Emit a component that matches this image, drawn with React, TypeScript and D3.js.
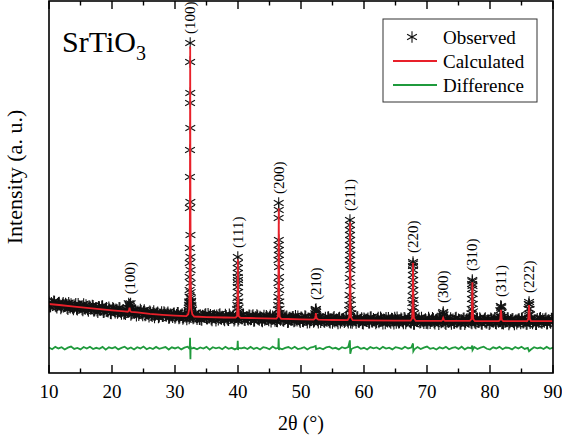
import React, { useEffect, useRef } from "react";
import * as d3 from "d3";

const W = 562;
const H = 440;
const M = { left: 49, right: 553, top: 1, bottom: 373 };
const RED = "#e8202a";
const GREEN = "#1f9a3c";
const FONT = "Liberation Serif, Times New Roman, serif";

const xTicks = [10, 20, 30, 40, 50, 60, 70, 80, 90];
const xMinorTicks = [15, 25, 35, 45, 55, 65, 75, 85];

// observed counts off the peaks, 10° to 90° every 0.25°
const obsStart = 10;
const obsStep = 0.25;
const obsBackground = [
  780, 635, 730, 815, 660, 595, 760, 685, 620, 764, 649, 703, 548, 682, 726, 591,
  605, 730, 535, 670, 625, 540, 725, 560, 625, 490, 645, 570, 665, 510, 585, 450,
  625, 530, 655, 460, 575, 480, 615, 420, 525, 571, 436, 532, 468, 593, 399, 534,
  420, 556, 463, 569, 365, 501, 418, 524, 460, 354, 548, 401, 485, 349, 433, 386,
  490, 356, 443, 279, 415, 461, 308, 384, 320, 467, 344, 421, 268, 395, 342, 418,
  265, 373, 440, 278, 355, 233, 400, 298, 375, 253, 411, 319, 277, 425, 223, 350,
  368, 206, 324, 382, 250, 409, 277, 216, 335, 364, 182, 301, 380, 249, 317, 216,
  385, 254, 193, 332, 291, 360, 219, 308, 177, 336, 265, 384, 203, 292, 231, 360,
  220, 339, 167, 306, 365, 244, 322, 181, 270, 199, 347, 226, 305, 144, 332, 251,
  280, 158, 357, 205, 304, 172, 261, 329, 138, 286, 214, 313, 171, 240, 328, 177,
  295, 164, 233, 322, 111, 260, 189, 298, 137, 236, 275, 114, 303, 192, 241, 140,
  189, 298, 137, 246, 105, 314, 203, 152, 271, 111, 230, 259, 159, 298, 117, 217,
  279, 168, 248, 107, 307, 136, 216, 96, 265, 185, 234, 114, 293, 143, 252, 172,
  131, 290, 170, 259, 79, 218, 278, 147, 197, 106, 246, 85, 225, 294, 114, 204,
  234, 93, 263, 152, 202, 282, 111, 221, 71, 250, 160, 270, 130, 190, 100, 240,
  140, 290, 99, 209, 249, 79, 228, 158, 268, 118, 187, 257, 67, 217, 146, 276,
  196, 106, 275, 125, 235, 85, 204, 254, 64, 224, 164, 263, 113, 283, 143, 93,
  263, 133, 232, 72, 192, 272, 112, 202, 92, 241, 151, 281, 81, 211, 161, 221,
  101, 251, 141, 271, 61, 210, 240, 120, 180, 80, 230, 150, 260, 110, 200, 70,
  230, 150, 270, 90, 199, 69, 249, 129, 279, 109, 179, 238, 78, 208, 138, 258,
  190,
];
// the scan points in between, 10.125° to 89.875°
const obsMidStart = 10.125;
const obsBackgroundMid = [
  628, 763, 698, 803, 638, 723, 768, 573, 717, 642, 736, 581, 765, 599, 664, 538,
  693, 558, 733, 598, 653, 508, 613, 688, 543, 658, 553, 678, 493, 598, 503, 638,
  513, 648, 453, 558, 603, 468, 553, 408, 603, 489, 554, 430, 606, 461, 497, 402,
  388, 525, 461, 567, 403, 490, 536, 342, 487, 411, 505, 348, 532, 366, 430, 303,
  458, 325, 501, 367, 423, 280, 386, 462, 319, 436, 333, 460, 277, 384, 290, 427,
  304, 442, 249, 357, 404, 272, 359, 217, 414, 302, 370, 248, 426, 284, 322, 229,
  217, 355, 293, 401, 240, 328, 377, 186, 334, 263, 362, 210, 399, 238, 307, 186,
  345, 214, 393, 262, 321, 180, 289, 368, 227, 346, 245, 374, 193, 302, 211, 350,
  230, 368, 177, 286, 334, 203, 292, 151, 349, 238, 307, 186, 364, 223, 262, 171,
  159, 298, 236, 345, 183, 272, 320, 128, 277, 205, 304, 152, 341, 179, 248, 126,
  285, 154, 333, 202, 261, 120, 229, 308, 167, 286, 185, 314, 133, 242, 151, 290,
  169, 308, 117, 226, 275, 144, 233, 92, 291, 180, 250, 129, 308, 168, 207, 117,
  109, 248, 188, 297, 137, 226, 276, 85, 235, 165, 264, 114, 303, 143, 212, 92,
  251, 120, 300, 169, 229, 88, 198, 277, 137, 256, 156, 285, 105, 214, 124, 264,
  144, 283, 93, 202, 252, 121, 211, 71, 270, 160, 230, 110, 290, 150, 190, 100,
  90, 229, 169, 279, 119, 208, 258, 68, 218, 147, 247, 97, 287, 126, 196, 76,
  236, 105, 285, 155, 215, 74, 184, 264, 124, 244, 143, 273, 93, 203, 113, 253,
  133, 272, 82, 192, 242, 112, 202, 62, 261, 151, 221, 101, 281, 141, 181, 91,
  81, 221, 161, 271, 110, 200, 250, 60, 210, 140, 240, 90, 280, 120, 190, 70,
  230, 100, 280, 149, 209, 69, 179, 259, 119, 239, 138, 268, 88, 198, 108, 248,
];

// observed points on the reflections [2θ, counts]
const obsPeaks: [number, number][][] = [
  [[22.55, 600], [22.65, 740], [22.75, 700], [22.85, 660], [22.95, 740], [23.05, 580]],
  [
    [32.14, 520], [32.18, 600], [32.22, 690], [32.26, 800], [32.29, 760], [32.31, 950],
    [32.32, 1170], [32.33, 1589], [32.34, 2039], [32.35, 2522], [32.36, 3808], [32.37, 4806],
    [32.38, 5674], [32.39, 7186], [32.4, 8505], [32.41, 9117], [32.42, 7508], [32.43, 6382],
    [32.44, 4001], [32.45, 2940], [32.46, 2232], [32.47, 1814], [32.48, 1395], [32.49, 1100],
    [32.5, 900], [32.53, 780], [32.57, 820], [32.61, 680], [32.66, 600], [32.71, 540],
  ],
  [
    [39.86, 560], [39.9, 688], [39.92, 913], [39.94, 1267], [39.95, 1589], [39.96, 1878],
    [39.97, 2232], [39.98, 2039], [39.99, 1717], [40.0, 1492], [40.01, 1395], [40.03, 1106],
    [40.06, 800], [40.1, 600], [40.15, 480],
  ],
  [
    [46.34, 540], [46.38, 688], [46.41, 945], [46.42, 1395], [46.43, 2135], [46.44, 2618],
    [46.45, 3487], [46.46, 3969], [46.47, 3744], [46.48, 2779], [46.49, 2457], [46.5, 2296],
    [46.51, 1910], [46.52, 1589], [46.53, 1170], [46.56, 800], [46.6, 560], [46.64, 440],
  ],
  [[52.2, 300], [52.26, 420], [52.3, 540], [52.34, 500], [52.38, 559], [52.42, 470], [52.48, 350]],
  [
    [57.64, 520], [57.68, 688], [57.71, 1009], [57.73, 1556], [57.74, 2135], [57.75, 2618],
    [57.76, 3101], [57.77, 3422], [57.78, 3261], [57.79, 2940], [57.8, 2779], [57.81, 2457],
    [57.82, 2296], [57.83, 1975], [57.84, 1814], [57.86, 1299], [57.9, 850], [57.95, 560], [58.0, 420],
  ],
  [
    [67.64, 480], [67.68, 752], [67.71, 977], [67.73, 1331], [67.75, 1653], [67.77, 1942],
    [67.78, 2071], [67.79, 2020], [67.8, 1814], [67.82, 1492], [67.84, 1170], [67.87, 850],
    [67.91, 600], [67.96, 420],
  ],
  [[72.45, 330], [72.52, 420], [72.58, 462], [72.64, 380]],
  [
    [77.06, 420], [77.1, 559], [77.13, 881], [77.15, 1202], [77.17, 1363], [77.19, 1492],
    [77.2, 1450], [77.22, 1300], [77.24, 1042], [77.27, 720], [77.31, 480],
  ],
  [[81.58, 320], [81.64, 520], [81.7, 656], [81.76, 600], [81.8, 640], [81.86, 450], [81.92, 300]],
  [[86.04, 360], [86.1, 560], [86.15, 720], [86.2, 784], [86.25, 700], [86.3, 560], [86.36, 380]],
];

// fitted curve: background knots and peak profiles [2θ, counts]
const calcBackground: [number, number][] = [
  [10, 720], [12, 680], [14, 635], [16, 595], [18, 555], [20, 515], [22, 480], [24, 450],
  [26, 400], [28, 370], [30, 345], [35, 300], [38, 285], [42, 270], [46, 250], [50, 225],
  [55, 205], [60, 195], [65, 185], [70, 180], [75, 175], [80, 172], [85, 170], [90, 168],
];
const calcPeaks: [number, number][][] = [
  [[22.5, 472], [22.68, 500], [22.74, 560], [22.78, 600], [22.82, 560], [22.88, 500], [23.05, 465]],
  [[31.8, 329], [32.1, 390], [32.25, 560], [32.33, 1500], [32.38, 5000], [32.41, 9000], [32.44, 5000], [32.49, 1500], [32.58, 560], [32.75, 390], [33.05, 317]],
  [[39.6, 279], [39.85, 330], [39.92, 700], [39.96, 1700], [39.98, 2150], [40.0, 1700], [40.04, 700], [40.12, 330], [40.4, 276]],
  [[46.1, 249], [46.33, 310], [46.4, 700], [46.44, 2400], [46.47, 3800], [46.5, 2400], [46.54, 700], [46.62, 310], [46.85, 245]],
  [[52.0, 217], [52.25, 260], [52.32, 360], [52.36, 430], [52.4, 360], [52.47, 260], [52.75, 214]],
  [[57.4, 200], [57.66, 290], [57.72, 700], [57.76, 2300], [57.79, 3350], [57.82, 2300], [57.86, 700], [57.94, 290], [58.2, 198]],
  [[67.4, 182], [67.64, 260], [67.71, 600], [67.75, 1500], [67.78, 2050], [67.81, 1500], [67.85, 600], [67.93, 260], [68.2, 181]],
  [[72.3, 178], [72.48, 210], [72.54, 260], [72.57, 275], [72.6, 260], [72.66, 210], [72.85, 177]],
  [[76.8, 174], [77.06, 230], [77.13, 500], [77.17, 1100], [77.2, 1420], [77.23, 1100], [77.27, 500], [77.35, 230], [77.6, 173]],
  [[81.4, 172], [81.62, 220], [81.69, 400], [81.74, 530], [81.79, 400], [81.86, 220], [82.1, 171]],
  [[85.9, 170], [86.08, 240], [86.15, 500], [86.2, 690], [86.25, 500], [86.32, 240], [86.5, 169]],
];

// observed - calculated, every 0.5°, plus the spikes at the reflections
const DIFF_OFFSET = -700;
const diffStep = 0.5;
const diffBase = [
  20, -35, 40, -10, 30, -45, 15, 50, -25, 5, -40, 35, -15, 45, -30, 10,
  -20, 40, -50, 25, -5, 35, -40, 10, 45, -25, 20, -45, 30, -10, 50, -35,
  15, -30, 40, -20, 5, 35, -45, 25, -10, 30, -40, 15, 45, -25, 10, -35,
  20, -15, 40, -50, 30, -5, 25, -35, 45, -20, 10, -40, 35, -10, 20, -30,
  40, -25, 15, -45, 30, 5, -35, 50, -15, 25, -40, 10, 35, -20, 45, -30,
  -10, 30, -45, 20, 40, -25, 5, -35, 25, 45, -15, 10, -40, 30, -5, 35,
  -30, 20, 45, -20, 10, -45, 35, -5, 25, -35, 40, -15, 15, -40, 30, 5,
  -25, 45, -10, 20, -40, 35, -30, 15, 50, -20, 5, -45, 25, -15, 40, -35,
  10, 30, -25, 45, -40, 20, -5, 35, -30, 15, 45, -20, -45, 25, -10, 40,
  -35, 20, 5, -40, 35, -15, 45, -25, 10, -45, 30, -5, 20, -30, 40, -20,
  15,
];
const diffSpikes: [number, number][] = [
  [32.3, -20], [32.36, 120], [32.39, 330], [32.42, -80], [32.45, -360], [32.48, 60], [32.54, -20],
  [39.9, 0], [39.96, 240], [40.0, -60], [40.05, 10],
  [46.4, 10], [46.45, 320], [46.5, -60], [46.55, 0],
  [52.33, 70], [52.4, -30],
  [57.76, 250], [57.82, -180],
  [67.78, 150], [67.83, -100],
  [77.18, 80], [77.23, -60],
  [86.2, -100],
];

const peakLabels = [
  { hkl: "(100)", pos: 22.78 },
  { hkl: "(100)", pos: 32.42 },
  { hkl: "(111)", pos: 39.98 },
  { hkl: "(200)", pos: 46.48 },
  { hkl: "(210)", pos: 52.36 },
  { hkl: "(211)", pos: 57.8 },
  { hkl: "(220)", pos: 67.8 },
  { hkl: "(300)", pos: 72.56 },
  { hkl: "(310)", pos: 77.2 },
  { hkl: "(311)", pos: 81.74 },
  { hkl: "(222)", pos: 86.2 },
];

const legendItems = ["Observed", "Calculated", "Difference"];

export default function App() {
  const ref = useRef<SVGSVGElement>(null);

  useEffect(() => {
    const svg = d3.select(ref.current);
    svg.selectAll("*").remove();

    const x = d3.scaleLinear().domain([10, 90]).range([M.left, M.right]);
    const y = d3.scaleLinear().domain([-1500, 10500]).range([M.bottom, 0]);

    const observed: [number, number][] = [
      ...obsBackground.map((v, i) => [obsStart + i * obsStep, v] as [number, number]),
      ...obsBackgroundMid.map((v, i) => [obsMidStart + i * obsStep, v] as [number, number]),
      ...obsPeaks.flat(),
    ];
    const calc = [...calcBackground, ...calcPeaks.flat()].sort((a, b) => a[0] - b[0]);
    const diff = [
      ...diffBase.map((v, i) => [10 + i * diffStep, v] as [number, number]),
      ...diffSpikes,
    ].sort((a, b) => a[0] - b[0]);

    svg.append("clipPath").attr("id", "plotclip").append("rect")
      .attr("x", M.left).attr("y", M.top)
      .attr("width", M.right - M.left).attr("height", M.bottom - M.top);

    const plot = svg.append("g").attr("clip-path", "url(#plotclip)");
    const star = d3.symbol().type(d3.symbolAsterisk).size(90)();

    plot.append("g").selectAll("path").data(observed).join("path")
      .attr("d", star)
      .attr("transform", (d) => `translate(${x(d[0])},${y(d[1])})`)
      .attr("fill", "none").attr("stroke", "#111").attr("stroke-width", 1.1);

    const line = d3.line<[number, number]>().x((d) => x(d[0])).y((d) => y(d[1]));
    plot.append("path").datum(calc).attr("d", line)
      .attr("fill", "none").attr("stroke", RED).attr("stroke-width", 1.8);

    const diffLine = d3.line<[number, number]>().x((d) => x(d[0])).y((d) => y(DIFF_OFFSET + d[1]));
    plot.append("path").datum(diff).attr("d", diffLine)
      .attr("fill", "none").attr("stroke", GREEN).attr("stroke-width", 1.8);

    // hkl labels above each reflection
    const labels = svg.append("g").style("font-family", FONT).attr("font-size", 15).attr("fill", "#000");
    peakLabels.forEach((p) => {
      const top = d3.max(observed.filter((d) => Math.abs(d[0] - p.pos) < 0.35), (d) => d[1]) ?? 0;
      labels.append("text")
        .attr("transform", `translate(${x(p.pos) + 5},${y(top) - 9}) rotate(-90)`)
        .text(p.hkl);
    });

    // frame and ticks
    svg.append("rect")
      .attr("x", M.left).attr("y", M.top)
      .attr("width", M.right - M.left).attr("height", M.bottom - M.top)
      .attr("fill", "none").attr("stroke", "#000").attr("stroke-width", 1.6);

    const ticks = svg.append("g").attr("stroke", "#000").attr("stroke-width", 1.4);
    xTicks.concat(xMinorTicks).forEach((t) => {
      const len = xTicks.includes(t) ? 8 : 4.5;
      ticks.append("line").attr("x1", x(t)).attr("x2", x(t)).attr("y1", M.bottom).attr("y2", M.bottom - len);
      ticks.append("line").attr("x1", x(t)).attr("x2", x(t)).attr("y1", M.top).attr("y2", M.top + len);
    });

    svg.append("g").style("font-family", FONT).attr("font-size", 19).attr("text-anchor", "middle")
      .selectAll("text").data(xTicks).join("text")
      .attr("x", (d) => x(d)).attr("y", 398).text((d) => d);

    svg.append("text").attr("x", (M.left + M.right) / 2).attr("y", 430)
      .attr("text-anchor", "middle").style("font-family", FONT).attr("font-size", 20)
      .text("2θ (°)");

    svg.append("text").attr("transform", "translate(22,177) rotate(-90)")
      .attr("text-anchor", "middle").style("font-family", FONT).attr("font-size", 22)
      .text("Intensity (a. u.)");

    const title = svg.append("text").attr("x", 62).attr("y", 52)
      .style("font-family", FONT).attr("font-size", 30);
    title.append("tspan").text("SrTiO");
    title.append("tspan").attr("font-size", 20).attr("dy", 8).text("3");

    // legend
    const lg = svg.append("g").style("font-family", FONT).attr("font-size", 19);
    lg.append("rect").attr("x", 383).attr("y", 19).attr("width", 154).attr("height", 83)
      .attr("fill", "#fff").attr("stroke", "#333").attr("stroke-width", 1);
    legendItems.forEach((name, i) => {
      const cy = 37 + i * 24;
      if (i === 0) {
        lg.append("path").attr("d", star).attr("transform", `translate(412,${cy})`)
          .attr("fill", "none").attr("stroke", "#111").attr("stroke-width", 1.1);
      } else {
        lg.append("line").attr("x1", 393).attr("x2", 437).attr("y1", cy).attr("y2", cy)
          .attr("stroke", i === 1 ? RED : GREEN).attr("stroke-width", 1.8);
      }
      lg.append("text").attr("x", 443).attr("y", cy + 7).text(name);
    });
  }, []);

  return (
    <svg ref={ref} width={W} height={H} style={{ position: "absolute", left: 0, top: 0, background: "#fff" }} />
  );
}
